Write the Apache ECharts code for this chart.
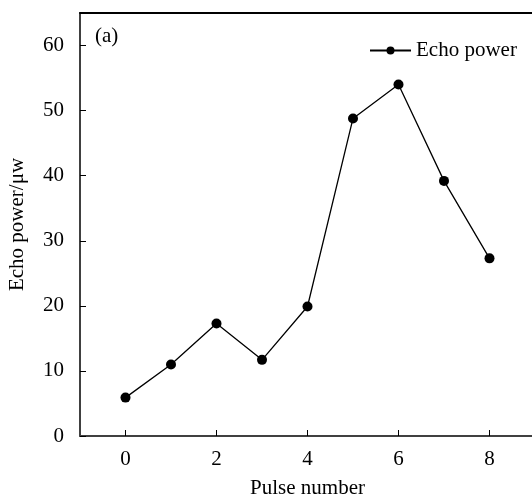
<!DOCTYPE html>
<html>
<head>
<meta charset="utf-8">
<script src="https://cdn.jsdelivr.net/npm/echarts@6/dist/echarts.min.js"></script>
<style>
  html, body { margin: 0; padding: 0; background: #fff; }
  #chart { width: 532px; height: 499px; }
</style>
</head>
<body>
<div id="chart"></div>
<script>
  // pulse numbers and echo power
  var pulses = [0, 1, 2, 3, 4, 5, 6, 7, 8];
  var echoPower = [5.9, 11.0, 17.3, 11.7, 19.9, 48.8, 54.0, 39.2, 27.3];
  var xTicks = [0, 2, 4, 6, 8];
  var yTicks = [0, 10, 20, 30, 40, 50, 60];

  var font = 'Liberation Serif';
  var axisColor = '#404040';

  var myChart = echarts.init(document.getElementById('chart'));
  var option = {
    animation: false,
    grid: { left: 80, top: 13, right: -3, bottom: 63, outerBoundsMode: 'none' },
    legend: {
      data: ['Echo power'],
      left: 369,
      top: 40,
      padding: 0,
      itemWidth: 41,
      itemHeight: 10,
      itemGap: 6,
      textStyle: { fontFamily: font, fontSize: 21, color: '#000' }
    },
    graphic: [
      {
        type: 'text',
        left: 95,
        top: 26,
        style: { text: '(a)', font: '21px "Liberation Serif"', fill: '#000' }
      }
    ],
    xAxis: [
      {
        type: 'value',
        min: -1,
        max: 9,
        name: 'Pulse number',
        nameLocation: 'middle',
        nameGap: 42,
        nameTextStyle: { fontFamily: font, fontSize: 21, color: '#000' },
        axisLine: { onZero: false, lineStyle: { color: axisColor, width: 2 } },
        axisTick: { inside: true, length: 6, customValues: xTicks, lineStyle: { color: '#000', width: 1 } },
        axisLabel: { customValues: xTicks, margin: 13, fontFamily: font, fontSize: 21, color: '#000' },
        splitLine: { show: false }
      },
      {
        type: 'value',
        position: 'top',
        min: -1,
        max: 9,
        axisLine: { show: true, onZero: false, lineStyle: { color: '#000', width: 2 } },
        axisTick: { show: false },
        axisLabel: { show: false },
        splitLine: { show: false }
      }
    ],
    yAxis: {
      type: 'value',
      min: 0,
      max: 65,
      name: 'Echo power/μw',
      nameLocation: 'middle',
      nameGap: 52,
      nameTextStyle: { fontFamily: font, fontSize: 21, color: '#000' },
      axisLine: { show: true, onZero: false, lineStyle: { color: axisColor, width: 2 } },
      axisTick: { inside: true, length: 6, customValues: yTicks, lineStyle: { color: '#000', width: 1 } },
      axisLabel: { customValues: yTicks, margin: 16, fontFamily: font, fontSize: 21, color: '#000' },
      splitLine: { show: false }
    },
    series: [
      {
        name: 'Echo power',
        type: 'line',
        data: pulses.map(function (p, i) { return [p, echoPower[i]]; }),
        symbol: 'circle',
        symbolSize: 10,
        lineStyle: { color: '#000', width: 1.3 },
        itemStyle: { color: '#000' }
      }
    ]
  };
  myChart.setOption(option);
</script>
</body>
</html>
